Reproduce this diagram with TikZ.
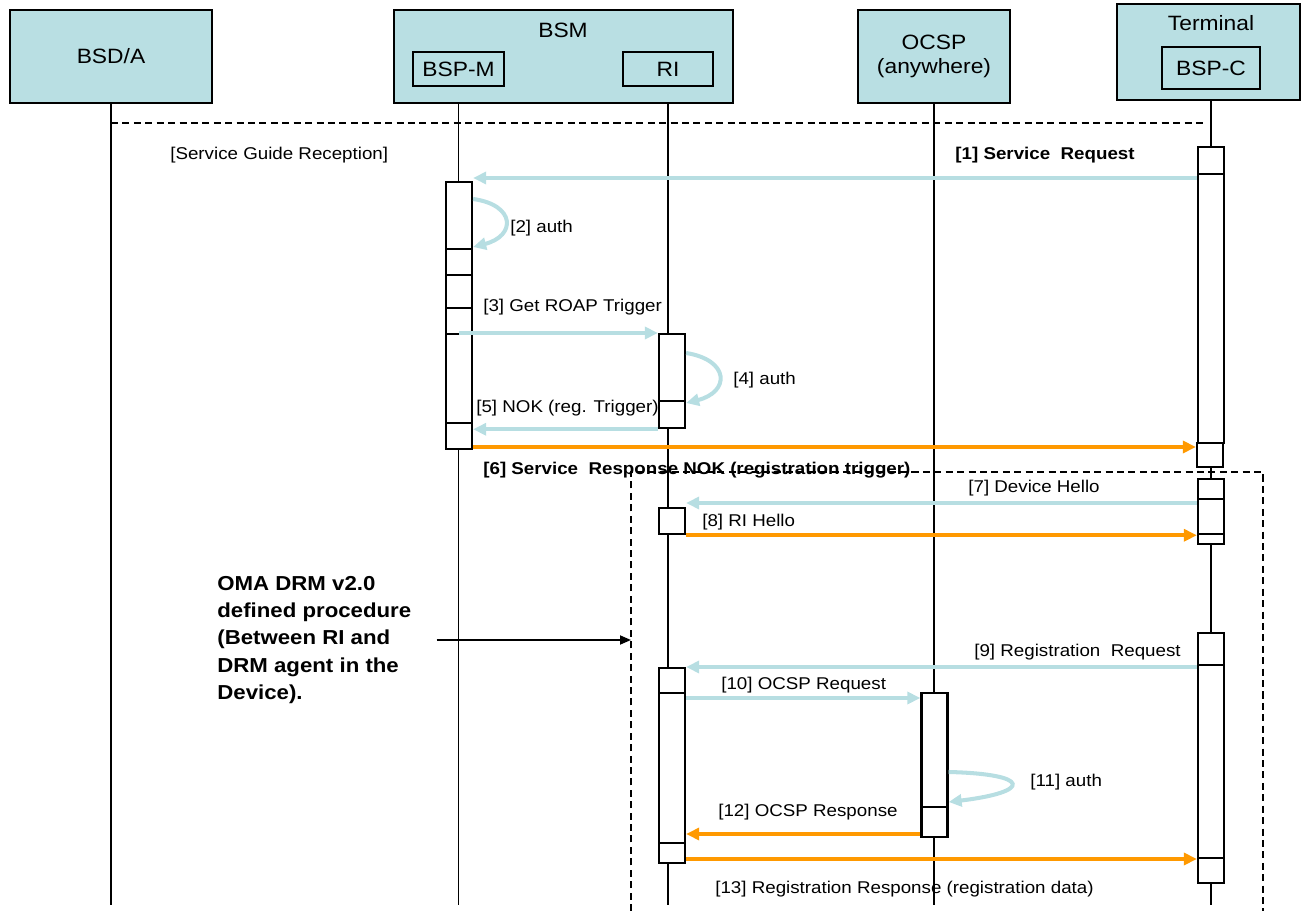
\documentclass[tikz,border=0pt]{standalone}
\usepackage{fontspec}
\setmainfont[FakeStretch=1.1]{Liberation Sans}
\usetikzlibrary{arrows.meta}
\definecolor{headfill}{RGB}{185,223,227}
\definecolor{msgblue}{RGB}{183,222,226}
\definecolor{msgorange}{RGB}{255,153,0}
\begin{document}
\begin{tikzpicture}
    [%%%%%%%%%%%%%%%%%%%%%%%%%%%%%%
        x=0.02cm, y=-0.02cm,
        head/.style={rectangle,draw=black,line width=1.1pt,fill=headfill,inner sep=0pt,font=\fontsize{11.8}{13.5}\selectfont},
        headtext/.style={inner sep=0pt,font=\fontsize{11.8}{13.5}\selectfont},
        sub/.style={rectangle,draw=black,line width=0.9pt,inner sep=0pt,font=\fontsize{11.8}{13.5}\selectfont},
        lifeline/.style={draw=black,line width=1pt},
        actbar/.style={rectangle,draw=black,line width=1.3pt,fill=white,minimum width=0.52cm,inner sep=0pt,anchor=north},
        msg/.style={line width=2.3pt,-{Triangle[length=0.26cm,width=0.24cm]}},
        req/.style={msg,draw=msgblue},
        resp/.style={msg,draw=msgorange},
        lbl/.style={inner sep=0pt,font=\fontsize{9.7}{11}\selectfont},
        boldlbl/.style={lbl,font=\fontsize{9.7}{11}\selectfont\bfseries},
        dashline/.style={draw=black,line width=0.7pt,dash pattern=on 4pt off 2.5pt},
        procnote/.style={inner sep=0pt,align=left,font=\fontsize{11.5}{15.4}\selectfont\bfseries},
    ]%%%%%%%%%%%%%%%%%%%%%%%%%%%%%%
\useasboundingbox (0,0) rectangle (1301,911);
% heads
\node[head, minimum width=4.04cm, minimum height=1.86cm] (bsda) at (111,56.5) {BSD/A};
\node[head, minimum width=6.78cm, minimum height=1.86cm] (bsm) at (563.5,56.5) {};
\node[headtext] (bsmname) at (563,30) {BSM};
\node[sub, minimum width=1.82cm, minimum height=0.68cm] (bspm) at (458.5,69) {BSP-M};
\node[sub, minimum width=1.8cm, minimum height=0.68cm] (ri) at (668,69) {RI};
\node[head, minimum width=3.04cm, minimum height=1.86cm, align=center] (ocsp) at (934,56.5) {OCSP\\(anywhere)};
\node[head, minimum width=3.66cm, minimum height=1.92cm] (term) at (1208.5,52) {};
\node[headtext] (termname) at (1211,23) {Terminal};
\node[sub, minimum width=1.96cm, minimum height=0.84cm] (bspc) at (1211,68) {BSP-C};
% lifelines
\draw[lifeline] (bsda.south) -- (bsda.south |- 0,905);
\draw[lifeline] (bspm |- bsm.south) -- (bspm |- 0,905);
\draw[lifeline] (ri |- bsm.south) -- (ri |- 0,905);
\draw[lifeline] (ocsp.south) -- (ocsp.south |- 0,905);
\draw[lifeline] (bspc |- term.south) -- (bspc |- 0,905);
\draw[dashline] (bsda.south |- 0,123) -- (1203,123);
\node[lbl, anchor=west] (sgr) at (170,155) {[Service Guide Reception]};
% BSP-M
\node[actbar, minimum height=1.34cm] (p1) at (459,181) {};
\node[actbar, minimum height=0.52cm] (p2) at (459,248) {};
\node[actbar, minimum height=0.66cm] (p3) at (459,274) {};
\node[actbar, minimum height=0.52cm] (p4) at (459,307) {};
\node[actbar, minimum height=1.78cm] (p5) at (459,333) {};
\node[actbar, minimum height=0.52cm] (p6) at (459,422) {};
% RI
\node[actbar, minimum height=1.34cm] (r1) at (672,333) {};
\node[actbar, minimum height=0.54cm] (r2) at (672,400) {};
\node[actbar, minimum height=0.52cm] (r3) at (672,507) {};
\node[actbar, minimum height=0.5cm] (r4) at (672,667) {};
\node[actbar, minimum height=3cm] (r5) at (672,692) {};
\node[actbar, minimum height=0.4cm] (r6) at (672,842) {};
% OCSP
\node[actbar, minimum height=2.28cm] (o1) at (934.5,692) {};
\node[actbar, minimum height=0.6cm] (o2) at (934.5,806) {};
% Terminal
\node[actbar, minimum height=0.54cm] (t1) at (1211,146) {};
\node[actbar, minimum height=5.38cm] (t2) at (1211,173) {};
\node[actbar, minimum height=0.48cm] (t3) at (1210,442) {};
\node[actbar, minimum height=0.4cm] (t4) at (1211,478) {};
\node[actbar, minimum height=0.7cm] (t5) at (1211,498) {};
\node[actbar, minimum height=0.2cm] (t6) at (1211,533) {};
\node[actbar, minimum height=0.64cm] (t7) at (1211,632) {};
\node[actbar, minimum height=3.86cm] (t8) at (1211,664) {};
\node[actbar, minimum height=0.5cm] (t9) at (1211,857) {};
% messages
\draw[req] (t2.west |- 0,178) -- (p1.east |- 0,178);
\node[boldlbl, anchor=east] (l1) at (1135,155) {[1] Service~~Request};
\draw[req] (p1.east |- 0,199) .. controls (516,205) and (516,236) .. (p1.east |- 0,247);
\node[lbl, anchor=west] (l2) at (510,228) {[2] auth};
\draw[req] (p5.north) -- (r1.north west);
\node[lbl, anchor=west] (l3) at (483,307) {[3] Get ROAP Trigger};
\draw[req] (r1.east |- 0,353) .. controls (730,360) and (730,392) .. (r1.east |- 0,403);
\node[lbl, anchor=west] (l4) at (733,380) {[4] auth};
\draw[req] (r2.south west) -- (p5.east |- r2.south west);
\node[lbl, anchor=west] (l5) at (476,408) {[5] NOK (reg. Trigger)};
\draw[resp] (p6.east |- 0,447) -- (t3.west |- 0,447);
\node[boldlbl, anchor=west] (l6) at (483,470) {[6] Service~~Response NOK (registration trigger)};
\draw[req] (t5.west |- 0,503) -- (r3.east |- 0,503);
\node[lbl, anchor=east] (l7) at (1100,488) {[7] Device Hello};
\draw[resp] (r3.south east) -- (t6.west |- r3.south east);
\node[lbl, anchor=west] (l8) at (702,522) {[8] RI Hello};
\draw[req] (t8.west |- r4.north) -- (r4.north east);
\node[lbl, anchor=east] (l9) at (1181,652) {[9] Registration~~Request};
\draw[req] (r5.east |- 0,698) -- (o1.west |- 0,698);
\node[lbl, anchor=west] (l10) at (721,685) {[10] OCSP Request};
\draw[req] (o1.east |- 0,772) .. controls (1032,774) and (1032,792) .. (o1.east |- 0,802);
\node[lbl, anchor=west] (l11) at (1030,782) {[11] auth};
\draw[resp] (o2.west |- 0,834) -- (r5.east |- 0,834);
\node[lbl, anchor=west] (l12) at (718,812) {[12] OCSP Response};
\draw[resp] (r6.east |- 0,859) -- (t9.west |- 0,859);
\node[lbl, anchor=west] (l13) at (715,889) {[13] Registration Response (registration data)};
% DRM frame
\coordinate (frame) at (631,472);
\draw[dashline] (frame |- 0,911) -- (frame) -- (1263,472) -- (1263,911);
\node[procnote, anchor=west] (oma) at (217,640) {OMA DRM v2.0\\defined procedure\\(Between RI and\\DRM agent in the\\Device).};
\draw[line width=1pt, -{Triangle[length=0.22cm,width=0.18cm]}] ([xshift=0.5cm]oma.east) -- (oma.east -| frame);
\end{tikzpicture}
\end{document}
